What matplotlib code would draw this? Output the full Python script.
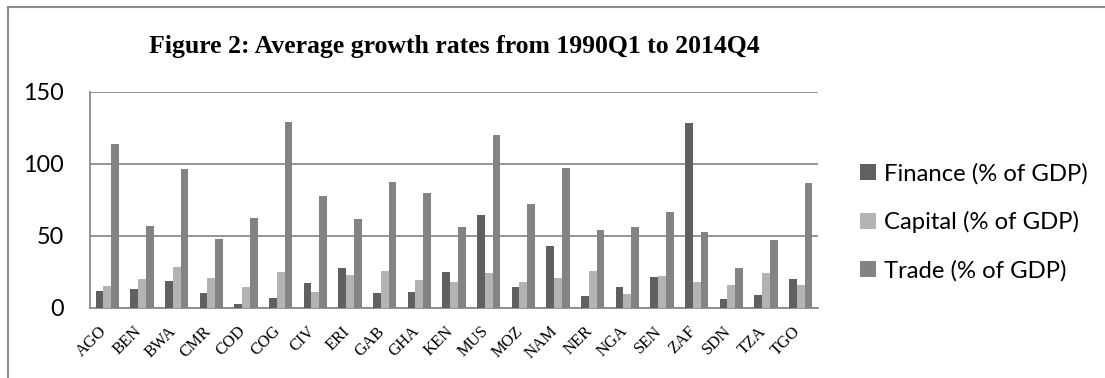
import numpy as np
import matplotlib
matplotlib.use("Agg")
import matplotlib.pyplot as plt
from matplotlib.lines import Line2D
from matplotlib import transforms

countries = ["AGO", "BEN", "BWA", "CMR", "COD", "COG", "CIV", "ERI", "GAB", "GHA",
             "KEN", "MUS", "MOZ", "NAM", "NER", "NGA", "SEN", "ZAF", "SDN", "TZA", "TGO"]
finance = [12.0, 13.2, 18.7, 10.6, 2.5, 7.2, 17.5, 27.9, 10.2, 11.1,
           24.7, 64.6, 14.8, 42.7, 8.3, 14.8, 21.2, 128.3, 6.0, 8.8, 20.1]
capital = [15.2, 19.8, 28.4, 21.0, 14.8, 25.2, 11.0, 23.1, 25.4, 19.2,
           18.0, 24.0, 18.2, 21.0, 25.4, 9.9, 22.2, 18.0, 16.2, 24.2, 16.2]
trade = [114.0, 57.2, 96.2, 47.8, 62.5, 129.0, 77.8, 61.6, 87.7, 79.6,
         56.1, 120.0, 72.2, 97.2, 54.0, 56.1, 66.7, 52.8, 27.5, 47.1, 86.8]
series_names = ["Finance (% of GDP)", "Capital (% of GDP)", "Trade (% of GDP)"]
yticks = [0, 50, 100, 150]
title = "Figure 2: Average growth rates from 1990Q1 to 2014Q4"

colors = ["#606060", "#b3b3b3", "#838383"]
grid_col = "#8c8c8c"
sans = ["Lato", "DejaVu Sans"]
serif = ["Liberation Serif", "DejaVu Serif"]

W, H, DPI = 1105, 378, 100
fig = plt.figure(figsize=(W / DPI, H / DPI), dpi=DPI)

# axes placed in pixel terms
left, right, top, bottom = 90, 818, 91.7, 308
ax = fig.add_axes([left / W, 1 - bottom / H, (right - left) / W, (bottom - top) / H])

x = np.arange(len(countries))
bw = 1 / 4.5  # three bars plus a 150% gap
for i, (vals, c, name) in enumerate(zip([finance, capital, trade], colors, series_names)):
    ax.bar(x + (i - 1) * bw, vals, width=bw, color=c, label=name, zorder=3,
           linewidth=0)

ax.set_xlim(-0.5, len(countries) - 0.5)
ax.set_ylim(0, 150)
ax.set_yticks(yticks)
ax.set_yticklabels([str(v) for v in yticks], fontsize=16.8, family=sans)
ax.yaxis.grid(True, color=grid_col, linewidth=1.3, zorder=0)
ax.tick_params(axis="y", length=0, pad=19)
ax.tick_params(axis="x", length=0, pad=11)

ax.set_xticks(x)
ax.set_xticklabels(countries, rotation=45, ha="right", va="top", fontsize=12, family=serif)
shift = transforms.ScaledTranslation(3 / DPI, 0, fig.dpi_scale_trans)
for lab in ax.get_xticklabels():
    lab.set_transform(lab.get_transform() + shift)

for side in ["top", "right"]:
    ax.spines[side].set_visible(False)
for side in ["left", "bottom"]:
    ax.spines[side].set_color(grid_col)
    ax.spines[side].set_linewidth(1.3)

fig.text((left + right) / 2 / W, 1 - 46 / H, title, ha="center", va="center",
         fontsize=18.5, fontweight="bold", family=serif)

leg = fig.legend(loc="center left", bbox_to_anchor=(860 / W, 1 - 222 / H),
                 frameon=False, prop={"family": sans, "size": 17.2},
                 handlelength=0.65, handleheight=0.65, handletextpad=0.35,
                 labelspacing=1.12, borderaxespad=0, borderpad=0)

# outer chart frame
fig.add_artist(Line2D([8 / W, 8 / W], [0, 1 - 7 / H], color=grid_col, lw=1.5,
                      transform=fig.transFigure))
fig.add_artist(Line2D([8 / W, 1], [1 - 7 / H, 1 - 7 / H], color=grid_col, lw=1.5,
                      transform=fig.transFigure))

fig.savefig("out.png", dpi=DPI)
